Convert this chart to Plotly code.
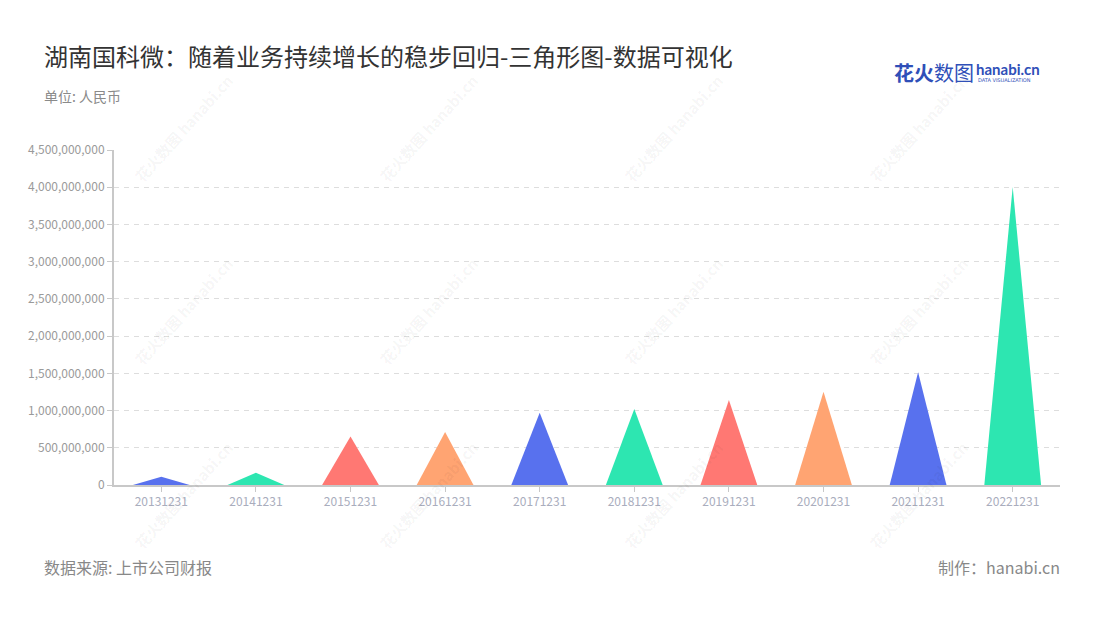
import plotly.graph_objects as go

# ---- data ----
categories = ["20131231", "20141231", "20151231", "20161231", "20171231",
              "20181231", "20191231", "20201231", "20211231", "20221231"]
values = [110_000_000, 165_000_000, 650_000_000, 712_000_000, 970_000_000,
          1_020_000_000, 1_142_000_000, 1_253_000_000, 1_513_000_000, 4_003_000_000]
palette = ["#5871EE", "#2DE6B1", "#FF7873", "#FFA472"]

title_text = "湖南国科微：随着业务持续增长的稳步回归-三角形图-数据可视化"
unit_text = "单位: 人民币"
source_text = "数据来源: 上市公司财报"
maker_text = "制作：hanabi.cn"

FONT = "Noto Sans CJK SC"
OFF = 8  # page body margin
W, H = 1100 - OFF, 620 - OFF
# plot area in screen pixels
SX0, SX1, SY0, SY1 = 114, 1060, 150, 485
L, R, T, B = SX0 - OFF, W - (SX1 - OFF), SY0 - OFF, H - (SY1 - OFF)
PW, PH = W - L - R, H - T - B

def px(x):
    return (x - OFF - L) / PW

def py(y):
    return (H - B - (y - OFF)) / PH

fig = go.Figure()
half = 0.3
for i, (c, v) in enumerate(zip(categories, values)):
    color = palette[i % len(palette)]
    fig.add_trace(go.Scatter(
        x=[i - half, i, i + half, i - half],
        y=[0, v, 0, 0],
        mode="lines", fill="toself", fillcolor=color,
        line=dict(width=0, color=color),
        hoverinfo="text", text=f"{c}: {v:,}", showlegend=False,
    ))

annotations = []
# watermarks
for wy in [128, 311, 495]:
    for wx in [183, 428, 673, 918]:
        annotations.append(dict(
            x=px(wx), y=py(wy), xref="paper", yref="paper",
            text="<b>花火数图 hanabi.cn</b>", showarrow=False, textangle=-48,
            font=dict(family=FONT, size=15, color="rgba(0,0,0,0.05)"),
            xanchor="center", yanchor="middle",
        ))

annotations += [
    dict(x=px(42), y=py(55), xref="paper", yref="paper", text=title_text,
         showarrow=False, xanchor="left", yanchor="middle",
         font=dict(family=FONT, size=24, color="#333333")),
    dict(x=px(42), y=py(96), xref="paper", yref="paper", text=unit_text,
         showarrow=False, xanchor="left", yanchor="middle",
         font=dict(family=FONT, size=14, color="#8a8a8a")),
    dict(x=px(42), y=py(567), xref="paper", yref="paper", text=source_text,
         showarrow=False, xanchor="left", yanchor="middle",
         font=dict(family=FONT, size=16, color="#888888")),
    dict(x=px(1062), y=py(567), xref="paper", yref="paper", text=maker_text,
         showarrow=False, xanchor="right", yanchor="middle",
         font=dict(family=FONT, size=16, color="#888888")),
    # logo
    dict(x=px(892), y=py(72), xref="paper", yref="paper", text="<b>花火</b>数图",
         showarrow=False, xanchor="left", yanchor="middle",
         font=dict(family=FONT, size=20, color="#2F4FB8")),
    dict(x=px(974), y=py(69), xref="paper", yref="paper", text="<b>hanabi.cn</b>",
         showarrow=False, xanchor="left", yanchor="middle",
         font=dict(family="Lato", size=15, color="#2F4FB8")),
    dict(x=px(976), y=py(80), xref="paper", yref="paper", text="DATA VISUALIZATION",
         showarrow=False, xanchor="left", yanchor="middle",
         font=dict(family="DejaVu Sans", size=5, color="#2F4FB8")),
]

fig.update_layout(
    width=W, height=H,
    margin=dict(l=L, r=R, t=T, b=B),
    paper_bgcolor="white", plot_bgcolor="white",
    font=dict(family=FONT),
    annotations=annotations,
    showlegend=False,
    xaxis=dict(
        range=[-0.5, len(categories) - 0.5],
        tickmode="array", tickvals=list(range(len(categories))), ticktext=categories,
        showgrid=False, zeroline=False,
        showline=True, linecolor="#c8c8c8", linewidth=2,
        ticks="outside", ticklen=5, tickcolor="#c8c8c8", tickwidth=1,
        tickfont=dict(family=FONT, size=12, color="#a9adbd"),
        fixedrange=True,
    ),
    yaxis=dict(
        range=[0, 4_500_000_000], dtick=500_000_000, tickformat=",",
        showgrid=True, gridcolor="#dddddd", griddash="5px,5px", gridwidth=1,
        zeroline=False,
        showline=True, linecolor="#c8c8c8", linewidth=2,
        ticks="outside", ticklen=5, tickcolor="#c8c8c8", tickwidth=1,
        tickfont=dict(family=FONT, size=12, color="#9a9a9a"),
        fixedrange=True,
    ),
)

fig.write_html("out.html")
